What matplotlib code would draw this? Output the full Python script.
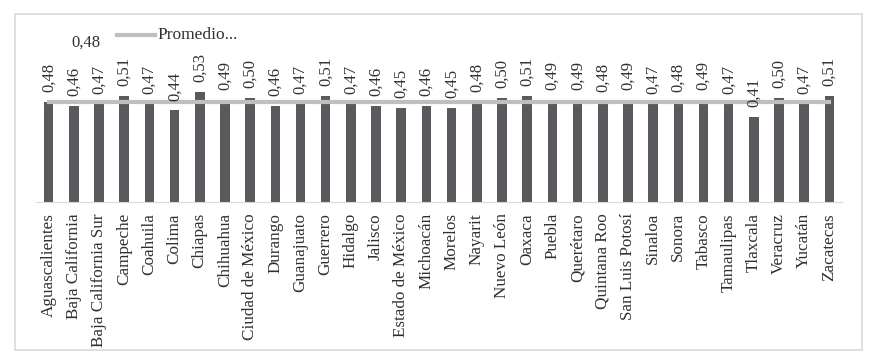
import matplotlib.pyplot as plt
from matplotlib.patches import Rectangle

estados = ["Aguascalientes", "Baja California", "Baja California Sur", "Campeche",
           "Coahuila", "Colima", "Chiapas", "Chihuahua", "Ciudad de México", "Durango",
           "Guanajuato", "Guerrero", "Hidalgo", "Jalisco", "Estado de México", "Michoacán",
           "Morelos", "Nayarit", "Nuevo León", "Oaxaca", "Puebla", "Querétaro",
           "Quintana Roo", "San Luis Potosí", "Sinaloa", "Sonora", "Tabasco",
           "Tamaulipas", "Tlaxcala", "Veracruz", "Yucatán", "Zacatecas"]
valores = [0.48, 0.46, 0.47, 0.51, 0.47, 0.44, 0.53, 0.49, 0.50, 0.46,
           0.47, 0.51, 0.47, 0.46, 0.45, 0.46, 0.45, 0.48, 0.50, 0.51,
           0.49, 0.49, 0.48, 0.49, 0.47, 0.48, 0.49, 0.47, 0.41, 0.50,
           0.47, 0.51]
promedio = 0.48

plt.rcParams["font.family"] = ["Liberation Serif", "DejaVu Serif"]

fig = plt.figure(figsize=(8.74, 3.62), dpi=100)
ax = fig.add_axes([0.0412, 0.442, 0.9222, 0.403])

x = list(range(len(estados)))
ax.bar(x, valores, width=0.38, color="#5a5a5e", zorder=2)
ax.plot(x, [promedio] * len(x), color="#bfbfbf", lw=3, zorder=3)

for xi, v in zip(x, valores):
    ax.annotate(f"{v:.2f}".replace(".", ","), (xi, v), xytext=(0, 7),
                textcoords="offset points", rotation=90, ha="center", va="bottom",
                fontsize=12, color="#303030")

ax.set_xlim(-0.5, len(x) - 0.5)
ax.set_ylim(0, 0.7)
ax.set_xticks(x)
ax.set_xticklabels(estados, rotation=90, fontsize=12.3, color="#303030")
ax.tick_params(axis="x", length=0, pad=8)
ax.set_yticks([])
for s in ["top", "right", "left"]:
    ax.spines[s].set_visible(False)
ax.spines["bottom"].set_color("#d9d9d9")

# leyenda y etiqueta del promedio
fig.add_artist(plt.Line2D([117 / 874, 155 / 874], [1 - 35 / 362] * 2,
                          color="#bfbfbf", lw=3))
fig.text(157 / 874, 1 - 35 / 362, "Promedio...", fontsize=12.5, va="center",
         color="#303030")
fig.text(86 / 874, 1 - 43 / 362, "0,48", fontsize=12, ha="center", va="center",
         color="#303030")

fig.add_artist(Rectangle((15 / 874, 12 / 362), 847 / 874, 336 / 362,
                         transform=fig.transFigure, fill=False,
                         edgecolor="#d9d9d9", lw=1.2))

plt.savefig("out.png", dpi=100)
